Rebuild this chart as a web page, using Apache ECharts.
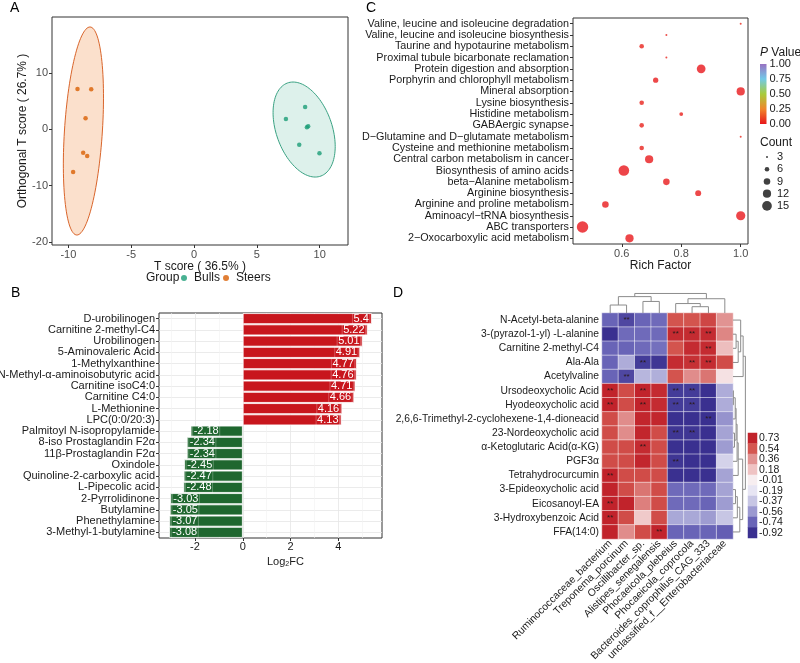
<!DOCTYPE html>
<html><head><meta charset="utf-8">
<script src="https://cdn.jsdelivr.net/npm/echarts@6/dist/echarts.min.js"></script>
<style>html,body{margin:0;padding:0;background:#fff}#c{width:800px;height:663px}</style>
</head><body><div id="c"></div>
<script>
// ---------- Panel A : OPLS-DA scores ----------
const bullsScores  = [[8.84,3.96],[7.31,1.83],[8.98,0.35],[9.08,0.55],[8.37,-2.73],[9.98,-4.26]];
const steersScores = [[-9.27,7.15],[-8.18,7.10],[-8.63,1.95],[-8.82,-4.15],[-8.50,-4.74],[-9.62,-7.58]];
const steersEllipseCenter = [-8.80,-0.30];
const steersEllipseAxisA  = [0.52,18.46];
const steersEllipseAxisB  = [1.51,0];
const bullsEllipseCenter  = [8.76,-0.04];
const bullsEllipseAxisA   = [-0.88,8.43];
const bullsEllipseAxisB   = [2.31,0];
const scoreXTicks = [-10,-5,0,5,10];
const scoreYTicks = [-20,-10,0,10];

// ---------- Panel B : Log2FC ----------
const fcNames = ['D-urobilinogen','Carnitine 2-methyl-C4','Urobilinogen','5-Aminovaleric Acid','1-Methylxanthine','N-Methyl-α-aminoisobutyric acid','Carnitine isoC4:0','Carnitine C4:0','L-Methionine','LPC(0:0/20:3)','Palmitoyl N-isopropylamide','8-iso Prostaglandin F2α','11β-Prostaglandin F2α','Oxindole','Quinoline-2-carboxylic acid','L-Pipecolic acid','2-Pyrrolidinone','Butylamine','Phenethylamine','3-Methyl-1-butylamine'];
const fcValues = [5.4,5.22,5.01,4.91,4.77,4.76,4.71,4.66,4.16,4.13,-2.18,-2.34,-2.34,-2.45,-2.47,-2.48,-3.03,-3.05,-3.07,-3.08];
const fcMajorTicks = [-2,0,2,4];
const fcMinorTicks = [-3,-1,1,3,5];

// ---------- Panel C : KEGG enrichment ----------
const pathways = ['Valine, leucine and isoleucine degradation','Valine, leucine and isoleucine biosynthesis','Taurine and hypotaurine metabolism','Proximal tubule bicarbonate reclamation','Protein digestion and absorption','Porphyrin and chlorophyll metabolism','Mineral absorption','Lysine biosynthesis','Histidine metabolism','GABAergic synapse','D\u2212Glutamine and D\u2212glutamate metabolism','Cysteine and methionine metabolism','Central carbon metabolism in cancer','Biosynthesis of amino acids','beta\u2212Alanine metabolism','Arginine biosynthesis','Arginine and proline metabolism','Aminoacyl\u2212tRNA biosynthesis','ABC transporters','2\u2212Oxocarboxylic acid metabolism'];
const richFactor   = [1.0,0.75,0.667,0.75,0.867,0.714,1.0,0.667,0.8,0.667,1.0,0.667,0.692,0.607,0.75,0.857,0.545,1.0,0.468,0.626];
const pathwayCount = [3,3,6,3,13,7,12,6,5,6,3,6,12,17,9,8,9,14,19,12];
const pathwayP     = [0.04,0.03,0.03,0.03,0.002,0.01,0.004,0.03,0.02,0.03,0.04,0.03,0.006,0.001,0.01,0.01,0.008,0.003,0.001,0.004];
const richTicks = [0.6,0.8,1.0];
const pValueTicks = [0,0.25,0.5,0.75,1];
const pValueColors = ['#E8161B','#F0862A','#A8CC3A','#72C9E8','#9872C2'];
const countLegend = [3,6,9,12,15];

// ---------- Panel D : correlation heatmap ----------
const metabolites = ['N-Acetyl-beta-alanine','3-(pyrazol-1-yl) -L-alanine','Carnitine 2-methyl-C4','Ala-Ala','Acetylvaline','Ursodeoxycholic Acid','Hyodeoxycholic acid','2,6,6-Trimethyl-2-cyclohexene-1,4-dioneacid','23-Nordeoxycholic acid','α-Ketoglutaric Acid(α-KG)','PGF3α','Tetrahydrocurcumin','3-Epideoxycholic acid','Eicosanoyl-EA','3-Hydroxybenzoic Acid','FFA(14:0)'];
const microbes = ['Ruminococcaceae_bacterium','Treponema_porcinum','Oscillibacter_sp.','Alistipes_senegalensis','Phocaeicola_plebeius','Phocaeicola_coprocola','Bacteroides_coprophilus_CAG_333','unclassified_f__Enterobacteriaceae'];
const corrValues = [
  [-0.74,-0.84,-0.74,-0.72, 0.55, 0.55, 0.60, 0.36],
  [-0.92,-0.72,-0.72,-0.72, 0.70, 0.70, 0.70, 0.40],
  [-0.74,-0.74,-0.72,-0.70, 0.55, 0.70, 0.70, 0.20],
  [-0.74,-0.48,-0.88,-0.90, 0.70, 0.68, 0.70, 0.58],
  [-0.74,-0.84,-0.44,-0.47, 0.55, 0.38, 0.45, 0.05],
  [ 0.75, 0.58, 0.75, 0.70,-0.88,-0.88,-0.92,-0.48],
  [ 0.75, 0.58, 0.75, 0.70,-0.88,-0.88,-0.92,-0.48],
  [ 0.58, 0.38, 0.72, 0.72,-0.92,-0.92,-0.92,-0.58],
  [ 0.58, 0.38, 0.72, 0.58,-0.90,-0.90,-0.92,-0.52],
  [ 0.58, 0.58, 0.70, 0.58,-0.92,-0.92,-0.92,-0.55],
  [ 0.58, 0.58, 0.72, 0.58,-0.90,-0.92,-0.92,-0.30],
  [ 0.75, 0.58, 0.58, 0.58,-0.96,-0.96,-0.96,-0.52],
  [ 0.75, 0.58, 0.45, 0.58,-0.72,-0.72,-0.72,-0.52],
  [ 0.75, 0.75, 0.42, 0.58,-0.72,-0.72,-0.74,-0.55],
  [ 0.75, 0.58, 0.15, 0.58,-0.50,-0.50,-0.55,-0.37],
  [ 0.75, 0.38, 0.58, 0.75,-0.74,-0.74,-0.74,-0.76]
];
const corrSig = [
  [0,1,0,0,0,0,0,0],[0,0,0,0,1,1,1,0],[0,0,0,0,0,0,1,0],[0,0,1,0,0,1,1,0],
  [0,1,0,0,0,0,0,0],[1,0,1,0,1,1,0,0],[1,0,1,0,1,1,0,0],[0,0,0,0,0,0,1,0],
  [0,0,0,0,1,1,0,0],[0,0,1,0,0,0,0,0],[0,0,0,0,1,0,0,0],[1,0,0,0,0,0,0,0],
  [0,0,0,0,0,0,0,0],[1,0,0,0,0,0,0,0],[1,0,0,0,0,0,0,0],[0,0,0,1,0,0,0,0]
];
const corrLegendBreaks = [0.73,0.54,0.36,0.18,-0.01,-0.19,-0.37,-0.56,-0.74,-0.92];
const corrColors = ['#3A3090','#6A65B8','#9D9BD1','#C7C6E4','#E8E6F3','#F8EEF0','#EFC3C3','#E19291','#D3554F','#C1232B'];
// hclust-style merges: negative = leaf (1-based), positive = earlier merge (1-based), then height
const colMerges = [[-1,-2,0.38],[-3,-4,0.55],[1,2,0.78],[-6,-7,0.30],[-5,4,0.45],[5,-8,0.68],[3,6,0.93]];
const rowMerges = [[-2,-3,0.25],[1,-4,0.42],[-1,2,0.62],[3,-5,0.82],
  [-6,-7,0.03],[-9,-10,0.12],[5,-8,0.18],[7,6,0.25],[8,-11,0.33],[9,-12,0.42],
  [-13,-14,0.2],[11,-15,0.35],[12,-16,0.55],[10,13,0.78],[4,14,1.0]];

// ---------- helpers ----------
const FONT = '"Liberation Sans", Arial, sans-serif';
function ellipseSeries(center, a, b, fill, stroke){
  return {type:'custom', xAxisIndex:0, yAxisIndex:0, silent:true, z:1, clip:false,
    data:[[center[0], center[1]]],
    renderItem:function(params, api){
      const pts=[];
      for(let i=0;i<=120;i++){
        const t=i/120*2*Math.PI;
        pts.push(api.coord([center[0]+Math.cos(t)*a[0]+Math.sin(t)*b[0], center[1]+Math.cos(t)*a[1]+Math.sin(t)*b[1]]));
      }
      return {type:'polygon', shape:{points:pts}, style:{fill:fill, stroke:stroke, lineWidth:1}};
    }};
}
function dendroSegments(merges, horizontal){
  const pos=[], hgt=[], segs=[];
  const get = r => r<0 ? [(-r)-1, 0] : [pos[r-1], hgt[r-1]];
  merges.forEach(m=>{
    const L=get(m[0]), R=get(m[1]), h=m[2];
    segs.push([L[0],L[1],L[0],h],[R[0],R[1],R[0],h],[L[0],h,R[0],h]);
    pos.push((L[0]+R[0])/2); hgt.push(h);
  });
  return horizontal ? segs.map(s=>[s[1],s[0],s[3],s[2]]) : segs;
}
function segSeries(segs, xi, yi){
  return {type:'custom', xAxisIndex:xi, yAxisIndex:yi, silent:true, clip:false, data:segs,
    renderItem:function(params, api){
      const p1=api.coord([api.value(0),api.value(1)]), p2=api.coord([api.value(2),api.value(3)]);
      return {type:'line', shape:{x1:p1[0],y1:p1[1],x2:p2[0],y2:p2[1]}, style:{stroke:'#8c8c8c', lineWidth:1}};
    }};
}
function countSize(c){ return Math.max(1.8, 2 + 3.6*(Math.sqrt(c)-Math.sqrt(3))); }
const hidden = {show:false};
const noLine = {show:false, onZero:false};
function hiddenAxis(extra){ return Object.assign({type:'value', show:false, splitLine:hidden, axisLine:noLine, axisTick:hidden, axisLabel:hidden}, extra); }
const boxGrid = {show:true, borderColor:'#333', borderWidth:1, backgroundColor:'#fff', outerBoundsMode:'none', containLabel:false};
const plainGrid = {show:false, outerBoundsMode:'none', containLabel:false};

const chart = echarts.init(document.getElementById('c'), null, {renderer:'canvas', width:800, height:663});

const barData = fcValues.map(v=>({value:v,
  itemStyle:{color: v>0 ? '#C8161D' : '#1F672F'},
  label:{position: v>0 ? 'insideRight' : 'insideLeft'}}));
const cData = richFactor.map((r,i)=>[r, i, pathwayP[i], pathwayCount[i]]);
const countData = countLegend.map((c,i)=>[0, i, 0, c]);
const heatData = [];
corrValues.forEach((row,r)=>row.forEach((v,c)=>heatData.push([c, r, v, corrSig[r][c]])));
const heatLegendData = corrLegendBreaks.map((v,i)=>[0, i, v]);

const option = {
  animation:false,
  textStyle:{fontFamily:FONT},
  title:[
    {text:'A', left:10, top:1, padding:0, textStyle:{fontSize:14, fontWeight:'normal', color:'#000', fontFamily:FONT}},
    {text:'C', left:366, top:1, padding:0, textStyle:{fontSize:14, fontWeight:'normal', color:'#000', fontFamily:FONT}},
    {text:'B', left:11, top:286, padding:0, textStyle:{fontSize:14, fontWeight:'normal', color:'#000', fontFamily:FONT}},
    {text:'D', left:393, top:286, padding:0, textStyle:{fontSize:14, fontWeight:'normal', color:'#000', fontFamily:FONT}},
    {text:'Group', left:146, top:272, padding:0, textStyle:{fontSize:12, fontWeight:'normal', color:'#1a1a1a', fontFamily:FONT}},
    {text:'{i|P} Value', left:760, top:47, padding:0, textStyle:{fontSize:12, fontWeight:'normal', color:'#1a1a1a', fontFamily:FONT, rich:{i:{fontStyle:'italic', fontSize:12, fontFamily:FONT, color:'#1a1a1a'}}}},
    {text:'Count', left:760, top:137, padding:0, textStyle:{fontSize:12, fontWeight:'normal', color:'#1a1a1a', fontFamily:FONT}},
    {text:'Log{s|2}FC', left:267, top:556, padding:0, textStyle:{fontSize:11, fontWeight:'normal', color:'#1a1a1a', fontFamily:FONT, rich:{s:{fontSize:7, verticalAlign:'bottom', padding:[5,0,0,0], fontFamily:FONT, color:'#1a1a1a'}}}}
  ],
  legend:{data:['Bulls','Steers'], left:181, top:272, itemWidth:6, itemHeight:6, itemGap:3, icon:'circle', padding:0,
    textStyle:{fontSize:12, color:'#1a1a1a', fontFamily:FONT, padding:[0,0,0,2]}},
  visualMap:[
    {type:'continuous', show:false, seriesIndex:[5], dimension:2, min:0, max:1, inRange:{color:pValueColors}},
    {type:'continuous', show:false, seriesIndex:[8,11], dimension:2, min:-0.92, max:0.73, inRange:{color:corrColors}}
  ],
  grid:[
    Object.assign({left:52, top:17, width:296, height:228}, boxGrid),
    Object.assign({left:159, top:313, width:223, height:225}, boxGrid),
    Object.assign({left:573, top:18, width:175, height:226}, boxGrid),
    Object.assign({left:760, top:64, width:6.5, height:60}, plainGrid),
    Object.assign({left:763, top:151, width:8, height:61}, plainGrid),
    Object.assign({left:602, top:313, width:131, height:226}, plainGrid),
    Object.assign({left:602, top:292, width:131, height:21}, plainGrid),
    Object.assign({left:733, top:313, width:13, height:226}, plainGrid),
    Object.assign({left:748, top:433, width:9, height:105}, plainGrid)
  ],
  xAxis:[
    {type:'value', gridIndex:0, min:-11.3, max:12.25, axisLine:noLine, splitLine:hidden,
      axisTick:{show:true, length:3, lineStyle:{color:'#333'}, customValues:scoreXTicks},
      axisLabel:{fontSize:11, color:'#4D4D4D', margin:4, customValues:scoreXTicks, fontFamily:FONT},
      name:'T score ( 36.5% )', nameLocation:'middle', nameGap:16, nameTextStyle:{fontSize:12, color:'#1a1a1a', fontFamily:FONT}},
    {type:'value', gridIndex:1, min:-3.504, max:5.824, axisLine:noLine,
      splitLine:{show:true, lineStyle:{color:'#E6E6E6', width:0.8}},
      axisTick:{show:true, length:3, lineStyle:{color:'#333'}, customValues:fcMajorTicks},
      axisLabel:{fontSize:11, color:'#1a1a1a', margin:3, customValues:fcMajorTicks, fontFamily:FONT}},
    {type:'value', gridIndex:2, min:0.436, max:1.0245, axisLine:noLine, splitLine:hidden,
      axisTick:{show:true, length:3, lineStyle:{color:'#333'}, customValues:richTicks},
      axisLabel:{fontSize:11, color:'#4D4D4D', margin:4, customValues:richTicks, formatter:v=>v.toFixed(1), fontFamily:FONT},
      name:'Rich Factor', nameLocation:'middle', nameGap:16, nameTextStyle:{fontSize:12, color:'#1a1a1a', fontFamily:FONT}},
    hiddenAxis({gridIndex:3, min:0, max:1}),
    hiddenAxis({gridIndex:4, min:-1, max:1}),
    {type:'category', gridIndex:5, data:microbes, position:'bottom', axisLine:noLine, axisTick:hidden, splitLine:hidden,
      axisLabel:{rotate:45, interval:0, fontSize:10.3, color:'#1a1a1a', margin:3, fontFamily:FONT}},
    hiddenAxis({gridIndex:6, min:-0.5, max:7.5}),
    hiddenAxis({gridIndex:7, min:0, max:1.05}),
    {type:'category', gridIndex:8, data:['x'], show:false, axisLine:noLine},
    {type:'value', gridIndex:1, min:-3.504, max:5.824, axisLine:noLine, axisLabel:hidden,
      splitLine:{show:true, lineStyle:{color:'#F2F2F2', width:0.6}},
      axisTick:{show:false, customValues:fcMinorTicks}}
  ],
  yAxis:[
    {type:'value', gridIndex:0, min:-20.53, max:19.93, axisLine:noLine, splitLine:hidden,
      axisTick:{show:true, length:3, lineStyle:{color:'#333'}, customValues:scoreYTicks},
      axisLabel:{fontSize:11, color:'#4D4D4D', margin:4, customValues:scoreYTicks, fontFamily:FONT},
      name:'Orthogonal T score ( 26.7% )', nameLocation:'middle', nameGap:23, nameTextStyle:{fontSize:12, color:'#1a1a1a', fontFamily:FONT}},
    {type:'category', gridIndex:1, data:fcNames, inverse:true, axisLine:noLine,
      splitLine:{show:true, alignWithLabel:true, lineStyle:{color:'#E6E6E6', width:0.8}},
      axisTick:{show:true, length:3, alignWithLabel:true, lineStyle:{color:'#333'}},
      axisLabel:{fontSize:11, color:'#1a1a1a', margin:4, interval:0, fontFamily:FONT}},
    {type:'category', gridIndex:2, data:pathways, inverse:true, axisLine:noLine, splitLine:hidden,
      axisTick:{show:true, length:3, alignWithLabel:true, lineStyle:{color:'#333'}},
      axisLabel:{fontSize:10.8, color:'#1a1a1a', margin:4, interval:0, fontFamily:FONT}},
    {type:'value', gridIndex:3, min:0, max:1, position:'right', axisLine:noLine, splitLine:hidden,
      axisTick:{show:true, inside:true, length:2, lineStyle:{color:'#fff'}, customValues:pValueTicks},
      axisLabel:{fontSize:11, color:'#1a1a1a', margin:3, customValues:pValueTicks, formatter:v=>v.toFixed(2), fontFamily:FONT}},
    {type:'category', gridIndex:4, data:countLegend.map(String), inverse:true, position:'right', axisLine:noLine, axisTick:hidden, splitLine:hidden,
      axisLabel:{fontSize:11, color:'#1a1a1a', margin:6, interval:0, fontFamily:FONT}},
    {type:'category', gridIndex:5, data:metabolites, inverse:true, axisLine:noLine, axisTick:hidden, splitLine:hidden,
      axisLabel:{fontSize:10.3, color:'#1a1a1a', margin:3, interval:0, fontFamily:FONT}},
    hiddenAxis({gridIndex:6, min:0, max:1}),
    hiddenAxis({gridIndex:7, min:-0.5, max:15.5, inverse:true}),
    {type:'category', gridIndex:8, data:corrLegendBreaks.map(v=>v.toFixed(2)), inverse:true, position:'right', axisLine:noLine, axisTick:hidden, splitLine:hidden,
      axisLabel:{fontSize:10.5, color:'#1a1a1a', margin:2, interval:0, fontFamily:FONT}}
  ],
  series:[
    ellipseSeries(steersEllipseCenter, steersEllipseAxisA, steersEllipseAxisB, 'rgba(243,166,110,0.35)', '#D9652B'),
    ellipseSeries(bullsEllipseCenter, bullsEllipseAxisA, bullsEllipseAxisB, 'rgba(27,158,119,0.15)', '#3AA283'),
    {name:'Bulls', type:'scatter', xAxisIndex:0, yAxisIndex:0, data:bullsScores, symbolSize:4.5, itemStyle:{color:'#1B9E77'}, z:3},
    {name:'Steers', type:'scatter', xAxisIndex:0, yAxisIndex:0, data:steersScores, symbolSize:4.5, itemStyle:{color:'#D95F02'}, z:3},
    {type:'bar', xAxisIndex:1, yAxisIndex:1, data:barData, barCategoryGap:'3%', z:3,
      itemStyle:{borderColor:'#fff', borderWidth:0.8},
      label:{show:true, color:'#fff', fontSize:11, distance:2, fontFamily:FONT,
        borderColor:'rgba(255,255,255,0.45)', borderWidth:0.6, padding:[0,1,0,1]}},
    {type:'scatter', xAxisIndex:2, yAxisIndex:2, data:cData, symbolSize:v=>countSize(v[3]), z:3},
    {type:'custom', xAxisIndex:3, yAxisIndex:3, silent:true, data:[[0,0]],
      renderItem:function(params, api){
        const p0=api.coord([0,1]), p1=api.coord([1,0]);
        return {type:'rect', shape:{x:p0[0], y:p0[1], width:p1[0]-p0[0], height:p1[1]-p0[1]},
          style:{fill:new echarts.graphic.LinearGradient(0,1,0,0, pValueColors.map((c,i)=>({offset:pValueTicks[i], color:c})))}};
      }},
    {type:'scatter', xAxisIndex:4, yAxisIndex:4, data:countData, symbolSize:v=>countSize(v[3]), itemStyle:{color:'#111'}},
    {type:'heatmap', xAxisIndex:5, yAxisIndex:5, data:heatData,
      itemStyle:{borderColor:'rgba(255,255,255,0.85)', borderWidth:0.6},
      label:{show:true, formatter:p=>p.value[3] ? '**' : '', color:'#2a1a1a', fontSize:8, fontFamily:FONT}},
    segSeries(dendroSegments(colMerges, false), 6, 6),
    segSeries(dendroSegments(rowMerges, true), 7, 7),
    {type:'heatmap', xAxisIndex:8, yAxisIndex:8, data:heatLegendData, itemStyle:{borderWidth:0}}
  ]
};
chart.setOption(option);
</script></body></html>
